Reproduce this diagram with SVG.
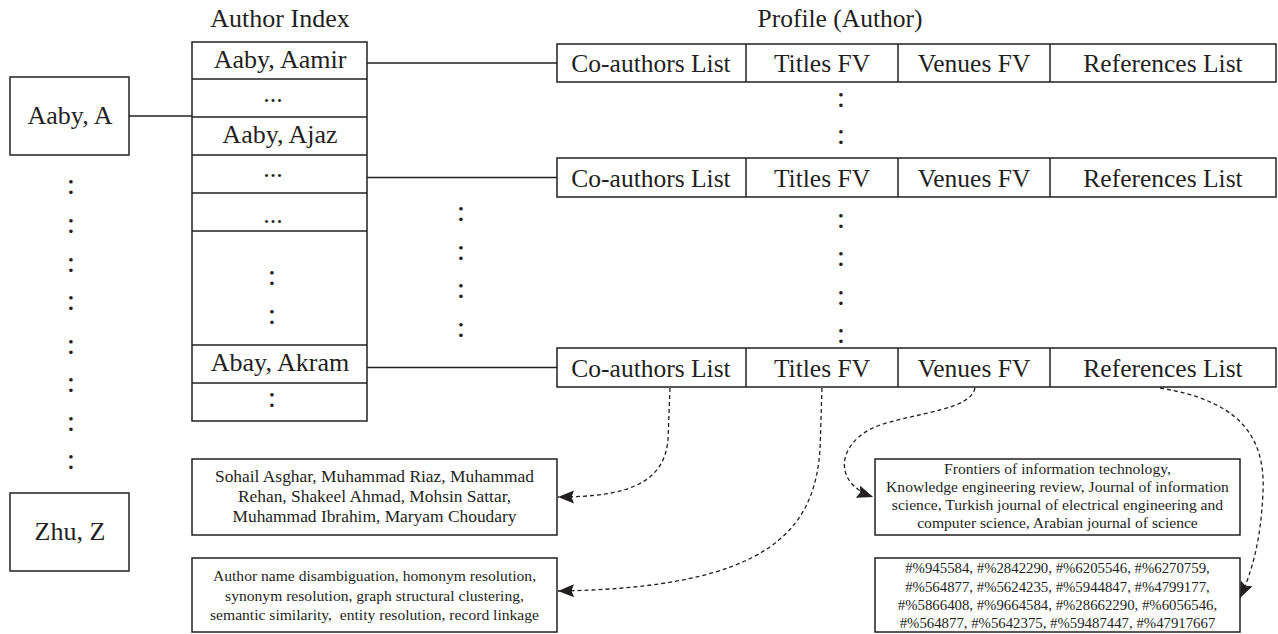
<svg xmlns="http://www.w3.org/2000/svg" width="1278" height="634" viewBox="0 0 1278 634">
<style>
text{font-family:"Liberation Serif","Times New Roman",serif;fill:#231f20;text-anchor:middle}
.box{fill:#fff;stroke:#231f20;stroke-width:1.5}
.sep{stroke:#231f20;stroke-width:1.5}
.big{font-size:26px}
.prof{font-size:25.5px}
.col{font-size:30px}
.s17{font-size:17.4px}
.s15{font-size:15.6px}
.s14{font-size:14.8px}
.link{stroke:#231f20;stroke-width:1.3;fill:none}
.dash{stroke:#231f20;stroke-width:1.3;fill:none;stroke-dasharray:4 3}
</style>
<defs>
<marker id="arr" markerUnits="userSpaceOnUse" markerWidth="18" markerHeight="14" refX="16" refY="6.5" orient="auto">
<path d="M0,0 L16,6.5 L0,13 L2.5,6.5 z" fill="#231f20"/>
</marker>
</defs>

<text class="big" x="280" y="27">Author Index</text>
<text class="prof" x="840" y="27">Profile (Author)</text>

<g id="connectors">
<line class="link" x1="129" y1="116" x2="192" y2="116"/>
<line class="link" x1="367" y1="63" x2="557" y2="63"/>
<line class="link" x1="367" y1="177.5" x2="557" y2="177.5"/>
<line class="link" x1="367" y1="367.5" x2="557" y2="367.5"/>
<path class="dash" d="M670,388 L668,440 C664,482 630,497 558,497" marker-end="url(#arr)"/>
<path class="dash" d="M822,388 L820,450 C814,530 770,588 558,591" marker-end="url(#arr)"/>
<path class="dash" d="M975,388 C970,410 920,412 880,425 C838,440 830,482 873,497" marker-end="url(#arr)"/>
<path class="dash" d="M1160,388 C1232,400 1266,430 1263,492 C1261,540 1252,572 1240,598" marker-end="url(#arr)"/>
</g>

<g id="node-aaby-a">
<rect class="box" x="10" y="77" width="119" height="78"/>
<text class="big" x="70" y="124">Aaby, A</text>
</g>

<g id="left-dots">
<text class="col" x="71" y="194">:</text>
<text class="col" x="71" y="233">:</text>
<text class="col" x="71" y="272">:</text>
<text class="col" x="71" y="310">:</text>
<text class="col" x="71" y="354">:</text>
<text class="col" x="71" y="392">:</text>
<text class="col" x="71" y="431">:</text>
<text class="col" x="71" y="469">:</text>
</g>

<g id="node-zhu-z">
<rect class="box" x="10" y="493" width="119" height="78"/>
<text class="big" x="70" y="540">Zhu, Z</text>
</g>

<g id="node-author-index">
<rect class="box" x="192" y="42" width="175" height="379"/>
<line class="sep" x1="192" y1="79" x2="367" y2="79"/>
<line class="sep" x1="192" y1="117" x2="367" y2="117"/>
<line class="sep" x1="192" y1="155" x2="367" y2="155"/>
<line class="sep" x1="192" y1="193" x2="367" y2="193"/>
<line class="sep" x1="192" y1="231" x2="367" y2="231"/>
<line class="sep" x1="192" y1="345" x2="367" y2="345"/>
<line class="sep" x1="192" y1="383" x2="367" y2="383"/>
<text class="big" x="280" y="68">Aaby, Aamir</text>
<text class="big" x="273" y="101.5">...</text>
<text class="big" x="280" y="143">Aaby, Ajaz</text>
<text class="big" x="273" y="176.5">...</text>
<text class="big" x="273" y="222.5">...</text>
<text class="col" x="272" y="285">:</text>
<text class="col" x="272" y="324">:</text>
<text class="big" x="280" y="371">Abay, Akram</text>
<text class="col" x="272" y="407">:</text>
</g>

<g id="middle-dots">
<text class="col" x="461" y="221">:</text>
<text class="col" x="461" y="260">:</text>
<text class="col" x="461" y="298">:</text>
<text class="col" x="461" y="337">:</text>
</g>

<g id="node-profile-1">
<rect class="box" x="557" y="44" width="719" height="38"/>
<line class="sep" x1="746" y1="44" x2="746" y2="82"/>
<line class="sep" x1="898" y1="44" x2="898" y2="82"/>
<line class="sep" x1="1050" y1="44" x2="1050" y2="82"/>
<text class="prof" x="651" y="72">Co-authors List</text>
<text class="prof" x="822" y="72">Titles FV</text>
<text class="prof" x="974" y="72">Venues FV</text>
<text class="prof" x="1163" y="72">References List</text>
</g>

<g id="profile-dots">
<text class="col" x="841" y="107">:</text>
<text class="col" x="841" y="144">:</text>
<text class="col" x="841" y="228">:</text>
<text class="col" x="841" y="266">:</text>
<text class="col" x="841" y="305">:</text>
<text class="col" x="841" y="343">:</text>
</g>

<g id="node-profile-2">
<rect class="box" x="557" y="158" width="719" height="39"/>
<line class="sep" x1="746" y1="158" x2="746" y2="197"/>
<line class="sep" x1="898" y1="158" x2="898" y2="197"/>
<line class="sep" x1="1050" y1="158" x2="1050" y2="197"/>
<text class="prof" x="651" y="186.5">Co-authors List</text>
<text class="prof" x="822" y="186.5">Titles FV</text>
<text class="prof" x="974" y="186.5">Venues FV</text>
<text class="prof" x="1163" y="186.5">References List</text>
</g>

<g id="node-profile-3">
<rect class="box" x="557" y="348" width="719" height="39"/>
<line class="sep" x1="746" y1="348" x2="746" y2="387"/>
<line class="sep" x1="898" y1="348" x2="898" y2="387"/>
<line class="sep" x1="1050" y1="348" x2="1050" y2="387"/>
<text class="prof" x="651" y="376.5">Co-authors List</text>
<text class="prof" x="822" y="376.5">Titles FV</text>
<text class="prof" x="974" y="376.5">Venues FV</text>
<text class="prof" x="1163" y="376.5">References List</text>
</g>

<g id="node-coauthors">
<rect class="box" x="192" y="459" width="365" height="76"/>
<text class="s17" x="374.5" y="482">Sohail Asghar, Muhammad Riaz, Muhammad</text>
<text class="s17" x="374.5" y="502">Rehan, Shakeel Ahmad, Mohsin Sattar,</text>
<text class="s17" x="374.5" y="522">Muhammad Ibrahim, Maryam Choudary</text>
</g>

<g id="node-titles">
<rect class="box" x="192" y="558" width="365" height="74"/>
<text class="s15" x="374.5" y="581">Author name disambiguation, homonym resolution,</text>
<text class="s15" x="374.5" y="601">synonym resolution, graph structural clustering,</text>
<text class="s15" x="374.5" y="620" xml:space="preserve">semantic similarity,  entity resolution, record linkage</text>
</g>

<g id="node-venues">
<rect class="box" x="875" y="459" width="365" height="76"/>
<text class="s15" x="1057.5" y="474">Frontiers of information technology,</text>
<text class="s15" x="1057.5" y="492">Knowledge engineering review, Journal of information</text>
<text class="s15" x="1057.5" y="510">science, Turkish journal of electrical engineering and</text>
<text class="s15" x="1057.5" y="528">computer science, Arabian journal of science</text>
</g>

<g id="node-references">
<rect class="box" x="875" y="558" width="365" height="74"/>
<text class="s14" x="1057.5" y="573">#%945584, #%2842290, #%6205546, #%6270759,</text>
<text class="s14" x="1057.5" y="592">#%564877, #%5624235, #%5944847, #%4799177,</text>
<text class="s14" x="1057.5" y="610">#%5866408, #%9664584, #%28662290, #%6056546,</text>
<text class="s14" x="1057.5" y="628">#%564877, #%5642375, #%59487447, #%47917667</text>
</g>
</svg>
